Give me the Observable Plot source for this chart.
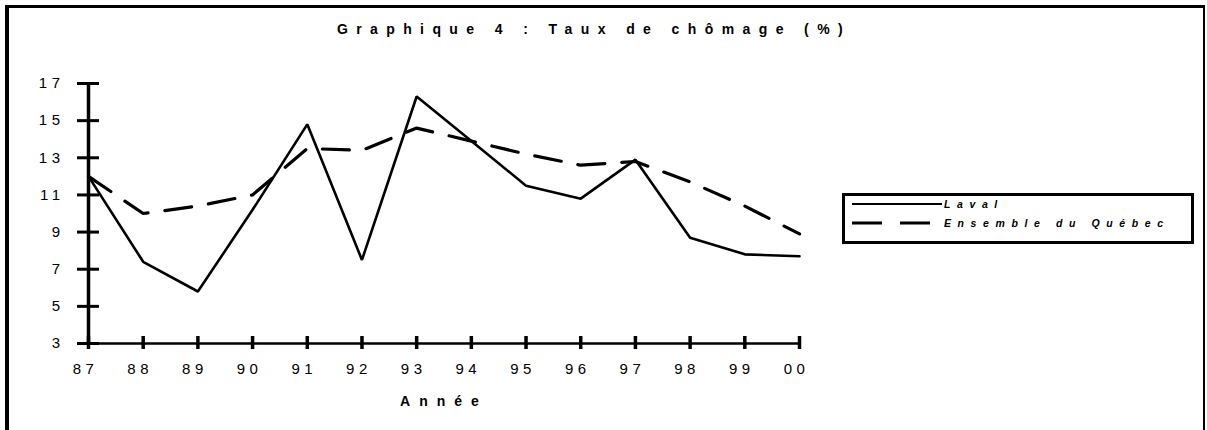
<!DOCTYPE html>
<html>
<head>
<meta charset="utf-8">
<script src="https://cdn.jsdelivr.net/npm/d3@7"></script>
<script src="https://cdn.jsdelivr.net/npm/@observablehq/plot@0.6"></script>
<style>
  body { margin: 0; background: #fff; font-family: "Liberation Sans", Arial, sans-serif; }
  #wrap { position: relative; width: 1207px; height: 430px; overflow: hidden; background: #fff; }
  #frame { position: absolute; left: 5px; top: 5px; width: 1200px; height: 520px; box-sizing: border-box;
           border-left: 4px solid #000; border-top: 3px solid #000; border-right: 2px solid #000; }
  #title { position: absolute; left: 0; top: 21px; width: 1188px; text-align: center;
           font: bold 14px "Liberation Sans", Arial, sans-serif; letter-spacing: 8.4px; color: #000; }
  #chart { position: absolute; left: 0; top: 0; }
  #legend { position: absolute; left: 842px; top: 193px; width: 352px; height: 51px; box-sizing: border-box;
            border: 3px solid #000; background: #fff; }
  #legend svg { position: absolute; left: -3px; top: -3px; }
  #legend text { font: italic bold 10.5px "Liberation Sans", Arial, sans-serif; letter-spacing: 6.6px; }
</style>
</head>
<body>
<div id="wrap">
  <div id="frame"></div>
  <div id="title">Graphique 4 : Taux de chômage (%)</div>
  <div id="chart"></div>
  <div id="legend"></div>
</div>
<script>
// ---- data ----
const years = [1987, 1988, 1989, 1990, 1991, 1992, 1993, 1994, 1995, 1996, 1997, 1998, 1999, 2000];
const tickLabels = ["87", "88", "89", "90", "91", "92", "93", "94", "95", "96", "97", "98", "99", "00"];
const laval  = [12.0, 7.4, 5.8, 10.2, 14.8, 7.5, 16.3, 13.9, 11.5, 10.8, 12.9, 8.7, 7.8, 7.7];
const quebec = [12.0, 10.0, 10.4, 11.0, 13.5, 13.4, 14.6, 13.9, 13.2, 12.6, 12.8, 11.7, 10.4, 8.9];
const yTicks = [3, 5, 7, 9, 11, 13, 15, 17];
const seriesNames = ["Laval", "Ensemble du Québec"];
const xTitle = "Année";

const table = years.map((yr, i) => ({year: yr, label: tickLabels[i], laval: laval[i], quebec: quebec[i]}));

const chart = Plot.plot({
  width: 1207,
  height: 430,
  marginLeft: 88,
  marginRight: 408,
  marginTop: 83,
  marginBottom: 87,
  style: {background: "transparent", fontFamily: "'Liberation Sans', Arial, sans-serif", color: "#000"},
  x: {domain: [years[0], years[years.length - 1]], axis: null},
  y: {domain: [yTicks[0], yTicks[yTicks.length - 1]], axis: null},
  marks: [
    // axis lines
    Plot.ruleY([yTicks[0]], {stroke: "#000", strokeWidth: 2.5, insetLeft: -11}),
    Plot.ruleX([years[0]], {stroke: "#000", strokeWidth: 3.5}),
    // y ticks (crossing the axis)
    Plot.ruleY(yTicks, {y: d => d, x1: years[0], x2: years[0], insetLeft: -11, insetRight: -11, stroke: "#000", strokeWidth: 3}),
    // x ticks (crossing the axis)
    Plot.ruleX(years, {x: d => d, y1: yTicks[0], y2: yTicks[0], insetTop: -7, insetBottom: -6, stroke: "#000", strokeWidth: 3.5}),
    // series
    Plot.line(table, {x: "year", y: "laval", stroke: "#000", strokeWidth: 2.6, strokeLinejoin: "miter"}),
    Plot.line(table, {x: "year", y: "quebec", stroke: "#000", strokeWidth: 3.2, strokeDasharray: "27,17", strokeLinejoin: "miter"}),
    // y tick labels
    Plot.text(yTicks, {x: years[0], y: d => d, text: d => String(d), textAnchor: "end", dx: -24, fontSize: 15, fill: "#000"}),
    // x tick labels
    Plot.text(table, {x: "year", y: yTicks[0], text: "label", dx: -3, dy: 26, fontSize: 15, fill: "#000"}),
    // x title
    Plot.text([xTitle], {frameAnchor: "bottom", text: d => d, dx: 0, dy: 62, fontSize: 14, fontWeight: "bold", fill: "#000"})
  ]
});
document.getElementById("chart").appendChild(chart);
// letter-spaced text as in the original spreadsheet chart
d3.select(chart).selectAll("text").each(function() {
  d3.select(this).style("letter-spacing", this.textContent === xTitle ? "9px" : "4.5px");
});

// ---- legend ----
const ns = "http://www.w3.org/2000/svg";
const lsvg = document.createElementNS(ns, "svg");
lsvg.setAttribute("width", 352);
lsvg.setAttribute("height", 51);
const rows = [
  {name: seriesNames[0], y: 11, dash: null, w: 2.2},
  {name: seriesNames[1], y: 30, dash: "30,18", w: 3}
];
rows.forEach(r => {
  const ln = document.createElementNS(ns, "line");
  ln.setAttribute("x1", 10); ln.setAttribute("x2", 100);
  ln.setAttribute("y1", r.y); ln.setAttribute("y2", r.y);
  ln.setAttribute("stroke", "#000"); ln.setAttribute("stroke-width", r.w);
  if (r.dash) ln.setAttribute("stroke-dasharray", r.dash);
  lsvg.appendChild(ln);
  const t = document.createElementNS(ns, "text");
  t.setAttribute("x", 102); t.setAttribute("y", r.y + 4);
  t.textContent = r.name;
  lsvg.appendChild(t);
});
document.getElementById("legend").appendChild(lsvg);
</script>
</body>
</html>
